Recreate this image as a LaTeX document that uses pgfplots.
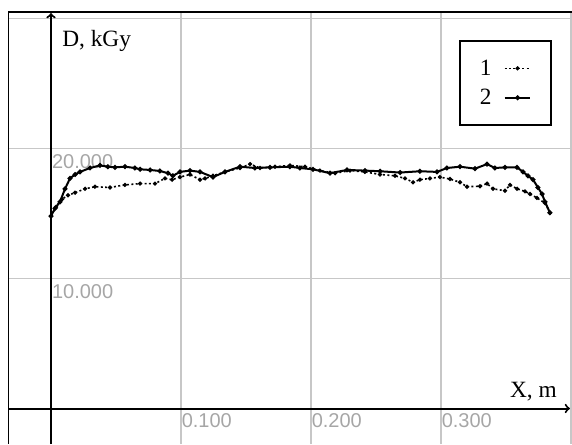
\documentclass[border=0pt]{standalone}
\usepackage{fontspec}
\setmainfont{Liberation Serif}
\newfontfamily\ticksf{Liberation Sans}
\usepackage{pgfplots}
\pgfplotsset{compat=1.18}
\begin{document}
\begin{tikzpicture}
\begin{axis}[
  name=ax,
  scale only axis, width=423pt, height=324pt,
  xmin=-0.033077, xmax=0.400769, ymin=-2.7308, ymax=30.5,
  axis line style={draw=none},
  xtick={0.1,0.2,0.3,0.4}, ytick={10,20,30},
  xticklabels={}, yticklabels={},
  major tick length=0pt,
  grid=major, major grid style={black!22, line width=1.1pt},
  legend plot pos=right,
  legend style={at={(0.7996,0.9352)}, anchor=north west, draw=black, line width=1.5pt,
    inner xsep=15pt, inner ysep=14pt, row sep=9pt, column sep=9pt,
    nodes={inner sep=0pt, font=\fontsize{17.5}{20}\selectfont}},
  legend image code/.code={\draw[mark repeat=2, mark phase=2, #1] plot coordinates {(0cm,0cm) (0.34cm,0cm) (0.68cm,0cm)};},
]
\node[anchor=north west, inner sep=0pt, text=black!35, font=\ticksf\fontsize{15}{15}\selectfont, xshift=0.6pt, yshift=-4.3pt] at (axis cs:0,20) {20.000};
\node[anchor=north west, inner sep=0pt, text=black!35, font=\ticksf\fontsize{15}{15}\selectfont, xshift=0.6pt, yshift=-4.3pt] at (axis cs:0,10) {10.000};
\node[anchor=north west, inner sep=0pt, text=black!35, font=\ticksf\fontsize{15}{15}\selectfont, xshift=0.4pt, yshift=-3.2pt] at (axis cs:0.1,0) {0.100};
\node[anchor=north west, inner sep=0pt, text=black!35, font=\ticksf\fontsize{15}{15}\selectfont, xshift=0.4pt, yshift=-3.2pt] at (axis cs:0.2,0) {0.200};
\node[anchor=north west, inner sep=0pt, text=black!35, font=\ticksf\fontsize{15}{15}\selectfont, xshift=0.4pt, yshift=-3.2pt] at (axis cs:0.3,0) {0.300};

\addplot[black, line width=1.2pt, dash pattern=on 1.5pt off 1.8pt, mark=*, mark size=0.9pt, mark options={solid}] coordinates {
(0.0000,14.8) (0.0038,15.5) (0.0085,16.1) (0.0131,16.4) (0.0185,16.6) (0.0262,16.9)
(0.0338,17.06) (0.0454,17.0) (0.0569,17.2) (0.0685,17.3) (0.0800,17.3) (0.0877,17.7)
(0.0931,17.6) (0.0992,17.8) (0.1069,18.0) (0.1146,17.6) (0.1185,17.7) (0.1246,17.9)
(0.1338,18.2) (0.1454,18.5) (0.1531,18.8) (0.1608,18.5) (0.1723,18.6) (0.1838,18.7)
(0.1954,18.6) (0.2069,18.3) (0.2185,18.1) (0.2300,18.3) (0.2415,18.2) (0.2531,18.0)
(0.2646,17.9) (0.2723,17.7) (0.2785,17.4) (0.2838,17.6) (0.2915,17.7) (0.2992,17.8)
(0.3069,17.65) (0.3146,17.4) (0.3200,17.06) (0.3300,17.1) (0.3354,17.3) (0.3400,16.9)
(0.3492,16.75) (0.3531,17.2) (0.3585,16.9) (0.3646,16.7) (0.3685,16.5) (0.3738,16.2)
(0.3800,15.8) (0.3838,15.06)
};
\addlegendentry{1}
\addplot[black, line width=1.5pt, mark=*, mark size=1pt] coordinates {
(0.0000,14.8) (0.0031,15.4) (0.0069,15.9) (0.0108,16.9) (0.0146,17.7) (0.0185,18.0)
(0.0223,18.2) (0.0300,18.5) (0.0377,18.7) (0.0438,18.6) (0.0492,18.55) (0.0569,18.6)
(0.0646,18.5) (0.0685,18.4) (0.0762,18.35) (0.0838,18.27) (0.0900,18.1) (0.0938,17.9)
(0.0992,18.2) (0.1069,18.3) (0.1146,18.2) (0.1246,17.8) (0.1338,18.2) (0.1454,18.6)
(0.1569,18.5) (0.1685,18.55) (0.1838,18.6) (0.1915,18.5) (0.2015,18.4) (0.2146,18.1)
(0.2277,18.35) (0.2415,18.3) (0.2531,18.25) (0.2685,18.15) (0.2838,18.25) (0.2969,18.2)
(0.3046,18.5) (0.3146,18.6) (0.3262,18.45) (0.3354,18.8) (0.3415,18.5) (0.3492,18.55)
(0.3585,18.55) (0.3631,18.2) (0.3669,17.9) (0.3708,17.6) (0.3746,17.0) (0.3777,16.5)
(0.3800,15.9) (0.3838,15.06)
};
\addlegendentry{2}

\draw[line width=1.5pt] (rel axis cs:0,0) -- (rel axis cs:0,1) -- (rel axis cs:1,1);
\draw[line width=1.5pt, ->] (axis cs:0,-2.7308) -- (axis cs:0,30.42);
\draw[line width=1.5pt, ->] (axis cs:-0.033077,0) -- (axis cs:0.3992,0);
\node[anchor=base west, inner sep=0pt, font=\fontsize{17.5}{20}\selectfont] at (axis cs:0.00846,27.81) {D, kGy};
\node[anchor=base east, inner sep=0pt, font=\fontsize{17.5}{20}\selectfont] at (axis cs:0.3892,0.85) {X, m};
\end{axis}
\pgfresetboundingbox
\path[use as bounding box] ([xshift=-6pt]ax.south west) rectangle ([yshift=9pt]ax.north east);
\end{tikzpicture}
\end{document}
